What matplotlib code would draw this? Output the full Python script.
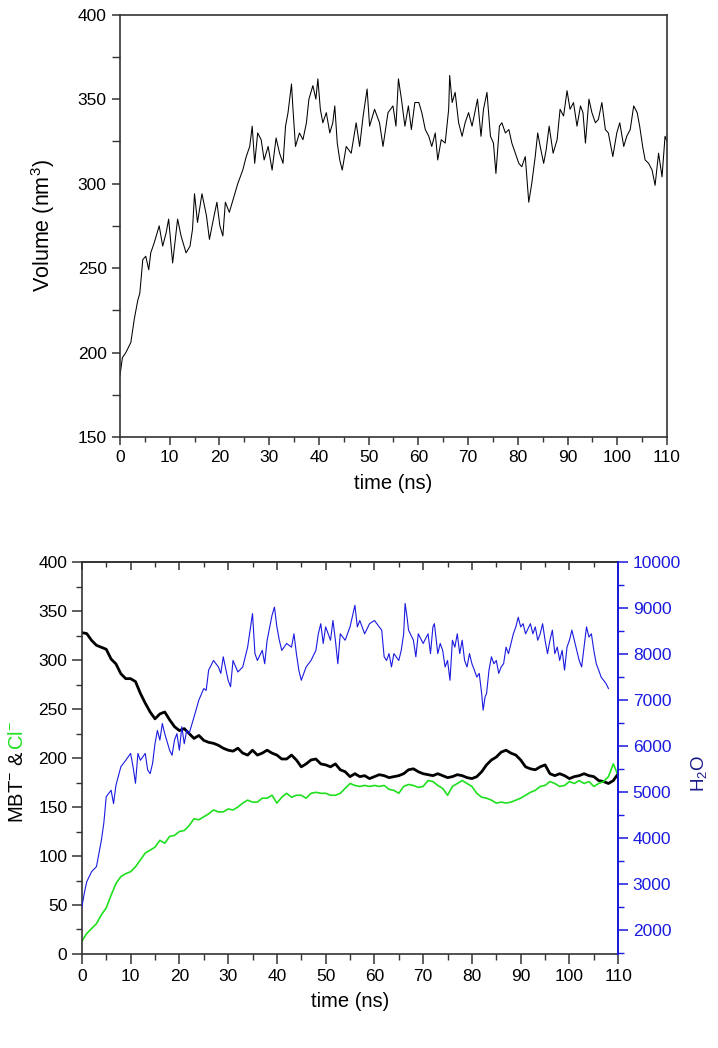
import numpy as np
import matplotlib.pyplot as plt
from matplotlib.ticker import MultipleLocator

plt.switch_backend("Agg")

plt.rcParams["font.family"] = ["Liberation Sans", "DejaVu Sans"]
plt.rcParams["mathtext.fontset"] = "custom"
plt.rcParams["mathtext.rm"] = "Liberation Sans"
plt.rcParams["mathtext.default"] = "regular"

# ---- top panel: volume (time ns, nm^3) ----
volume_pts = np.array([
    [0, 186], [0.5, 197], [1.2, 200], [2.2, 206], [2.9, 220], [3.6, 231], [4.0, 235], [4.6, 255],
    [5.2, 257], [5.8, 249], [6.2, 259], [6.9, 265], [7.9, 275], [8.6, 263], [9.3, 271], [9.8, 279],
    [10.6, 253], [11.6, 279], [12.3, 269], [13.3, 259], [14.1, 263], [14.6, 273], [15.0, 294],
    [15.6, 277], [16.5, 294], [17.4, 281], [18.0, 267], [18.8, 279], [19.5, 289], [20.1, 275],
    [20.7, 269], [21.2, 289], [22.0, 283], [22.7, 290], [23.7, 300], [24.7, 308], [25.4, 316],
    [26.1, 322], [26.6, 334], [27.1, 312], [27.7, 330], [28.4, 326], [29.0, 314], [29.8, 322],
    [30.6, 308], [31.4, 327], [32.1, 318], [32.8, 312], [33.3, 334], [33.8, 342], [34.5, 359],
    [34.8, 344], [35.3, 322], [36.1, 330], [36.8, 326], [37.5, 336], [38.0, 350], [38.8, 358],
    [39.4, 350], [39.8, 362], [40.3, 344], [40.8, 336], [41.5, 342], [42.2, 330], [42.8, 336],
    [43.2, 346], [43.7, 324], [44.2, 314], [44.7, 308], [45.5, 322], [46.5, 318], [47.5, 336],
    [48.2, 322], [48.9, 340], [49.7, 356], [50.2, 334], [51.2, 344], [52.2, 336], [52.9, 322],
    [53.9, 342], [54.9, 346], [55.5, 334], [56.0, 362], [56.6, 350], [57.3, 334], [58.0, 346],
    [58.6, 332], [59.3, 348], [60.1, 348], [60.7, 342], [61.4, 332], [62.1, 328], [62.7, 322],
    [63.4, 330], [63.9, 314], [64.6, 326], [65.4, 324], [66.1, 344], [66.3, 364], [66.8, 348],
    [67.4, 354], [68.1, 336], [68.8, 328], [69.4, 336], [70.1, 342], [70.8, 334], [71.5, 344],
    [71.9, 350], [72.6, 328], [73.1, 344], [73.8, 354], [74.5, 328], [75.1, 324], [75.6, 306],
    [76.3, 334], [76.8, 336], [77.5, 330], [78.2, 332], [78.8, 324], [79.5, 318], [80.2, 312],
    [80.8, 310], [81.5, 316], [82.2, 289], [82.8, 300], [83.5, 316], [84.0, 330], [84.5, 322],
    [85.2, 312], [85.7, 320], [86.3, 334], [87.1, 318], [87.9, 326], [88.5, 344], [89.2, 340],
    [89.9, 355], [90.5, 344], [91.2, 348], [91.9, 334], [92.6, 346], [93.1, 342], [93.6, 324],
    [94.3, 350], [94.9, 342], [95.6, 336], [96.2, 338], [96.9, 348], [97.6, 332], [98.2, 330],
    [99.1, 316], [99.9, 330], [100.5, 336], [101.3, 322], [101.9, 328], [102.6, 332], [103.3, 346],
    [104.0, 342], [104.5, 334], [105.1, 322], [105.6, 314], [106.3, 312], [107.0, 308],
    [107.6, 299], [108.3, 318], [109.0, 304], [109.6, 328], [110, 325],
])

# ---- bottom panel: ion counts, one value per ns (0..110) ----
mbt = [
    328, 327, 320, 315, 313, 311, 301, 296, 286, 281,
    281, 278, 266, 256, 247, 240, 245, 247, 239, 232,
    228, 230, 225, 220, 223, 218, 216, 215, 213, 210,
    208, 207, 210, 205, 203, 208, 203, 205, 208, 205,
    203, 199, 199, 203, 198, 191, 194, 198, 199, 194,
    193, 191, 194, 188, 186, 181, 184, 181, 182, 179,
    181, 183, 182, 180, 181, 182, 184, 188, 189, 186,
    184, 183, 182, 184, 182, 180, 181, 183, 182, 180,
    179, 181, 186, 193, 198, 201, 206, 208, 205, 203,
    198, 191, 189, 188, 191, 193, 184, 182, 184, 182,
    179, 181, 182, 184, 182, 181, 177, 176, 174, 177, 184,
]
cl = [
    13, 21, 26, 31, 40, 47, 60, 72, 79, 82,
    84, 89, 96, 103, 106, 109, 116, 113, 120, 121,
    125, 126, 131, 138, 137, 140, 143, 147, 145, 145,
    148, 147, 150, 154, 157, 155, 155, 159, 159, 162,
    154, 160, 164, 160, 162, 162, 159, 164, 165, 164,
    164, 162, 162, 164, 169, 174, 172, 171, 172, 171,
    172, 171, 172, 168, 167, 164, 171, 173, 172, 170,
    171, 177, 176, 172, 169, 162, 171, 174, 177, 174,
    171, 164, 160, 159, 157, 154, 155, 154, 155, 157,
    159, 162, 165, 167, 171, 172, 176, 174, 171, 172,
    176, 174, 177, 174, 176, 171, 174, 176, 181, 194, 182,
]
ion_time = np.arange(len(mbt))

# water molecules (time ns, count)
h2o_pts = np.array([
    [0, 2500], [0.5, 2800], [1, 3050], [2, 3270], [3, 3380], [3.5, 3670], [4, 3950], [4.5, 4320],
    [5, 4900], [5.5, 4970], [6, 5040], [6.5, 4750], [7, 5150], [8, 5550], [9, 5690], [10, 5840],
    [10.5, 5550], [11, 5190], [11.5, 5840], [12, 5690], [13, 5840], [13.5, 5480], [14, 5400],
    [14.5, 5620], [15, 6050], [15.5, 6340], [16, 6130], [16.5, 6490], [17, 6270], [18, 5910],
    [18.5, 5800], [19, 6130], [19.5, 6270], [20, 5910], [20.5, 6420], [21, 6050], [21.5, 6340],
    [22, 6270], [23, 6630], [24, 7000], [25, 7250], [25.5, 7210], [26, 7650], [27, 7860],
    [28, 7720], [28.5, 7580], [29, 7940], [30, 7430], [30.5, 7290], [31, 7860], [32, 7610],
    [33, 7720], [34, 8150], [34.5, 8520], [35, 8880], [35.5, 8010], [36, 7860], [37, 8080],
    [37.5, 7790], [38, 8300], [39, 8840], [39.5, 9020], [40, 8590], [40.5, 8300], [41, 8080],
    [42, 8230], [43, 8150], [43.5, 8440], [44, 8010], [44.5, 7650], [45, 7430], [46, 7720],
    [47, 7860], [48, 8080], [48.5, 8440], [49, 8660], [49.5, 8230], [50, 8590], [51, 8300],
    [51.5, 8730], [52, 8300], [52.5, 7790], [53, 8440], [54, 8300], [55, 8590], [56, 9060],
    [56.5, 8590], [57, 8730], [58, 8440], [59, 8660], [60, 8730], [61, 8590], [61.5, 8520],
    [62, 7940], [62.5, 7860], [63, 8010], [63.5, 7720], [64, 8010], [65, 7860], [65.5, 8080],
    [66, 8440], [66.3, 9100], [66.7, 8800], [67, 8520], [68, 8300], [68.5, 7940], [69, 8440],
    [70, 8230], [71, 8440], [71.5, 8010], [72, 8590], [72.3, 8660], [73, 8010], [73.5, 8230],
    [74, 8080], [74.5, 7720], [75, 7860], [75.5, 7430], [76, 8300], [76.5, 8150], [77, 8440],
    [77.5, 8010], [78, 8300], [78.5, 7860], [79, 7720], [79.5, 8010], [80, 7790], [80.5, 7650],
    [81, 7500], [81.5, 7580], [82, 7140], [82.3, 6780], [82.7, 7070], [83, 7140], [83.5, 7650],
    [84, 7940], [84.5, 7790], [85, 7860], [85.5, 7580], [86, 7720], [86.5, 7790], [87, 8150],
    [87.5, 8010], [88, 8230], [88.5, 8440], [89, 8590], [89.5, 8800], [90, 8590], [90.5, 8660],
    [91, 8440], [92, 8660], [92.5, 8440], [93, 8590], [93.5, 8300], [94, 8440], [94.5, 8660],
    [95, 8300], [95.5, 8010], [96, 8300], [96.5, 8520], [97, 8010], [97.5, 8150], [98, 7860],
    [98.5, 8080], [99, 7650], [99.5, 8150], [100, 8300], [100.5, 8520], [101, 8300],
    [101.5, 8080], [102, 7860], [102.5, 7720], [103, 8150], [103.5, 8590], [104, 8370],
    [104.5, 8440], [105, 8080], [105.5, 7790], [106, 7650], [106.5, 7500], [107, 7430],
    [107.5, 7360], [108, 7250],
])

BLUE = "#1a1ae0"
GREEN = "#1fe01f"
TICK_FS = 12.5
LABEL_FS = 14.5


def style_x(ax):
    ax.set_xlim(0, 110)
    ax.xaxis.set_major_locator(MultipleLocator(10))
    ax.xaxis.set_minor_locator(MultipleLocator(5))
    ax.set_xlabel("time (ns)", fontsize=LABEL_FS, labelpad=6)


def main():
    fig = plt.figure(figsize=(7.18, 10.48), dpi=100)

    # top panel
    ax = fig.add_axes([0.167, 0.583, 0.762, 0.403])
    ax.plot(volume_pts[:, 0], volume_pts[:, 1], color="black", lw=0.75)
    style_x(ax)
    ax.set_ylim(150, 400)
    ax.yaxis.set_major_locator(MultipleLocator(50))
    ax.yaxis.set_minor_locator(MultipleLocator(25))
    ax.set_ylabel("Volume (nm$^3$)", fontsize=15.5, labelpad=15)
    ax.tick_params(which="both", direction="out", labelsize=TICK_FS, color="#333333")
    ax.tick_params(which="major", length=6, width=1.1)
    ax.tick_params(which="minor", length=3.5, width=1.0)
    ax.tick_params(axis="y", which="minor", length=6)
    for s in ax.spines.values():
        s.set_linewidth(1.2)
        s.set_color("#333333")

    # bottom panel
    ax = fig.add_axes([0.114, 0.0897, 0.747, 0.374])
    ax.plot(ion_time, mbt, color="black", lw=2.0)
    ax.plot(ion_time, cl, color=GREEN, lw=1.2)
    style_x(ax)
    ax.set_ylim(0, 400)
    ax.yaxis.set_major_locator(MultipleLocator(50))
    ax.yaxis.set_minor_locator(MultipleLocator(25))
    ax.tick_params(which="both", direction="out", labelsize=TICK_FS, color="#333333")
    ax.tick_params(which="major", length=7, width=1.1)
    ax.tick_params(which="minor", length=4, width=1.0)
    for s in ax.spines.values():
        s.set_linewidth(1.2)
        s.set_color("#333333")

    top = ax.secondary_xaxis("top")
    top.xaxis.set_major_locator(MultipleLocator(10))
    top.xaxis.set_minor_locator(MultipleLocator(5))
    top.tick_params(which="both", direction="in", labeltop=False, color="#333333")
    top.tick_params(which="major", length=6, width=1.1)
    top.tick_params(which="minor", length=3.5, width=1.0)
    top.spines["top"].set_linewidth(1.2)
    top.spines["top"].set_color("#333333")

    ax2 = ax.twinx()
    ax2.plot(h2o_pts[:, 0], h2o_pts[:, 1], color=BLUE, lw=0.8)
    ax2.set_ylim(1480, 10000)
    ax2.yaxis.set_major_locator(MultipleLocator(1000))
    ax2.yaxis.set_minor_locator(MultipleLocator(500))
    ax2.tick_params(which="both", direction="out", labelsize=TICK_FS, color=BLUE, labelcolor=BLUE)
    ax2.tick_params(which="major", length=7, width=1.1)
    ax2.tick_params(which="minor", length=4, width=1.0)
    ax2.spines["right"].set_color(BLUE)
    ax2.spines["right"].set_linewidth(1.4)
    for k in ("left", "top", "bottom"):
        ax2.spines[k].set_visible(False)
    fig.text(699 / 718, 1 - 773 / 1048, "H$_2$O", rotation=90, ha="center", va="center",
             fontsize=13.5, color="#1a1a8a")

    # two-coloured left label
    t1 = fig.text(0.024, 0.215, "MBT$^{-}$ & ", rotation=90, ha="center", va="bottom",
                  fontsize=LABEL_FS, color="black")
    ax.annotate("Cl$^{-}$", xy=(0.5, 1.0), xycoords=t1, rotation=90, ha="center", va="bottom",
                fontsize=LABEL_FS, color=GREEN)

    fig.savefig("out.png", dpi=100)
    plt.close(fig)


if __name__ == "__main__":
    main()
